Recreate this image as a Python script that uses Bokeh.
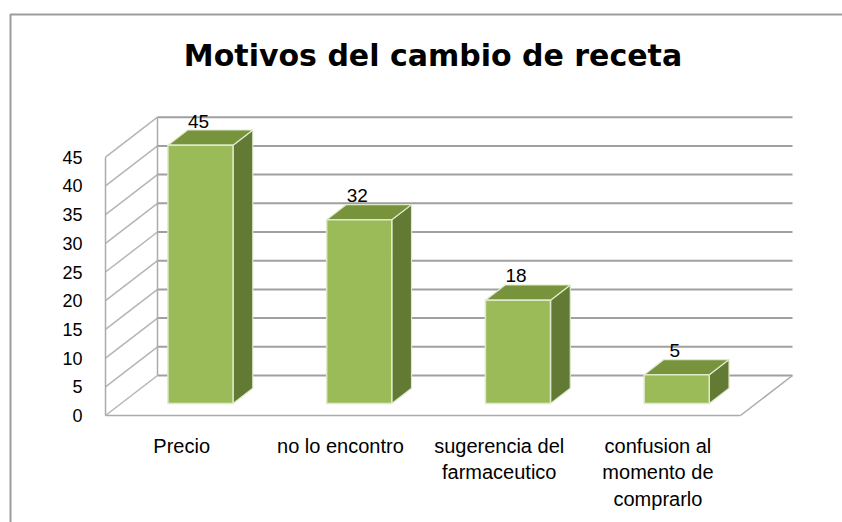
from bokeh.plotting import figure
from bokeh.models import FixedTicker, BoxAnnotation, Range1d, Label
from bokeh.core.properties import value
from bokeh.embed import file_html
from bokeh.resources import INLINE

# ---- data ----
title_text = "Motivos del cambio de receta"
categories = ["Precio", "no lo encontro", "sugerencia del\nfarmaceutico",
              "confusion al\nmomento de\ncomprarlo"]
values = [45, 32, 18, 5]
y_ticks = [0, 5, 10, 15, 20, 25, 30, 35, 40, 45]

# ---- layout constants (pixels) ----
W, H = 842, 522
X0_PX, X_SCALE = 105.0, 158.75   # front-left floor corner, px per category
Y0_PX, Y_SCALE = 415.0, 5.74     # front floor line, px per value unit


def dx(px):
    return (px - X0_PX) / X_SCALE


def dy(py):
    return (Y0_PX - py) / Y_SCALE


# ---- 3D geometry (data units) ----
DEPTH_X = 52 / X_SCALE     # x shift of the full floor depth
DEPTH_Y = 40 / Y_SCALE     # y shift of the full floor depth
BAR_FRONT = 0.30           # bar front face depth fraction
BAR_BACK = 0.68            # bar back face depth fraction
BAR_W = 0.41
LABEL_PAD = 9 / Y_SCALE
n = len(categories)
ymax = y_ticks[-1]

p = figure(width=W, height=H, output_backend="svg", toolbar_location=None,
           title=None,
           x_range=Range1d(dx(0), dx(W)), y_range=Range1d(dy(H), dy(0)),
           min_border_left=0, min_border_right=0, min_border_top=0,
           min_border_bottom=0)
p.outline_line_color = None
p.xgrid.visible = False
p.ygrid.visible = False
p.background_fill_color = "white"

# ---- chart border ----
p.add_layout(BoxAnnotation(left=dx(10), right=dx(W + 30), top=dy(14), bottom=dy(H + 30),
                           fill_alpha=0, line_color="#9c9c9c", line_alpha=1.0,
                           line_width=2))

# ---- walls ----
back_xs = [[DEPTH_X, n + DEPTH_X] for v in y_ticks]
back_ys = [[v + DEPTH_Y, v + DEPTH_Y] for v in y_ticks]
p.multi_line(back_xs, back_ys, line_color="#a0a0a0", line_width=2)

side_xs = [[0, DEPTH_X] for v in y_ticks]
side_ys = [[v, v + DEPTH_Y] for v in y_ticks]
p.multi_line(side_xs, side_ys, line_color="#b5b5b5", line_width=1.5)

edge_xs = [[0, 0], [DEPTH_X, DEPTH_X], [0, n], [n, n + DEPTH_X]]
edge_ys = [[0, ymax], [DEPTH_Y, ymax + DEPTH_Y], [0, 0], [0, DEPTH_Y]]
p.multi_line(edge_xs, edge_ys, line_color="#ababab", line_width=1.5)

# ---- bars ----
ddx = (BAR_BACK - BAR_FRONT) * DEPTH_X
ddy = (BAR_BACK - BAR_FRONT) * DEPTH_Y
front_xs, front_ys, top_xs, top_ys, side_bxs, side_bys = [], [], [], [], [], []
lab_x, lab_y, lab_t = [], [], []
for i, v in enumerate(values):
    xl = i + 0.5 - BAR_W / 2 + BAR_FRONT * DEPTH_X
    xr = xl + BAR_W
    yb = BAR_FRONT * DEPTH_Y
    yt = v + yb
    front_xs.append([xl, xr, xr, xl]); front_ys.append([yb, yb, yt, yt])
    top_xs.append([xl, xr, xr + ddx, xl + ddx]); top_ys.append([yt, yt, yt + ddy, yt + ddy])
    side_bxs.append([xr, xr + ddx, xr + ddx, xr]); side_bys.append([yb, yb + ddy, yt + ddy, yt])
    lab_x.append(i + 0.5 + BAR_FRONT * DEPTH_X - 0.012)
    lab_y.append(v + BAR_BACK * DEPTH_Y + LABEL_PAD)
    lab_t.append(str(v))

edge = "#dfe9cb"
p.patches(side_bxs, side_bys, fill_color="#627a33", line_color=edge, line_width=1.2)
p.patches(top_xs, top_ys, fill_color="#77933c", line_color=edge, line_width=1.2)
p.patches(front_xs, front_ys, fill_color="#9bbb59", line_color=edge, line_width=1.5)

p.text(lab_x, lab_y, text=lab_t, text_align="center", text_baseline="alphabetic",
       text_font=value("Liberation Sans"), text_font_size="19px", text_color="black")

# ---- axes (fixed inside the frame) ----
p.yaxis.fixed_location = dx(88)
p.yaxis.ticker = FixedTicker(ticks=y_ticks)
p.yaxis.axis_line_color = None
p.yaxis.major_tick_line_color = None
p.yaxis.minor_tick_line_color = None
p.yaxis.major_tick_out = 0
p.yaxis.major_tick_in = 0
p.yaxis.major_label_standoff = 6
p.yaxis.major_label_text_font = "Liberation Sans"
p.yaxis.major_label_text_font_size = "18px"
p.yaxis.major_label_text_color = "black"

cat_ticks = [i + 0.5 - 0.02 for i in range(n)]
p.xaxis.fixed_location = dy(425)
p.xaxis.ticker = FixedTicker(ticks=cat_ticks)
p.xaxis.major_label_overrides = {t: c for t, c in zip(cat_ticks, categories)}
p.xaxis.axis_line_color = None
p.xaxis.major_tick_line_color = None
p.xaxis.minor_tick_line_color = None
p.xaxis.major_tick_out = 0
p.xaxis.major_tick_in = 0
p.xaxis.major_label_standoff = 9
p.xaxis.major_label_text_font = "Liberation Sans"
p.xaxis.major_label_text_font_size = "20px"
p.xaxis.major_label_text_color = "black"
p.xaxis.major_label_text_line_height = 1.22

# ---- title ----
p.add_layout(Label(x=dx(432.5), y=dy(55), text=title_text, text_align="center",
                   text_baseline="alphabetic", text_font="DejaVu Sans",
                   text_font_style="bold", text_font_size="30px", text_color="black"))

open("out.html", "w").write(file_html(p, INLINE))
